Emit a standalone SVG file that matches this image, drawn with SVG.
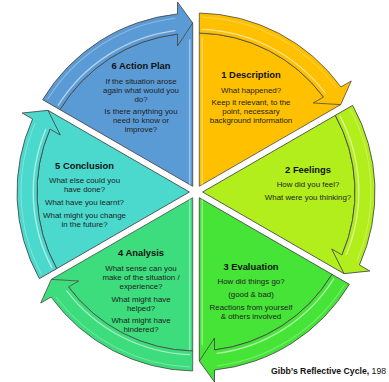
<svg xmlns="http://www.w3.org/2000/svg" xmlns:xlink="http://www.w3.org/1999/xlink" width="389" height="382" viewBox="0 0 389 382">
  <style>
    .wedge { stroke: #4a4a4a; stroke-width: 0.8; stroke-linejoin: round; }
    .band { stroke: #4a4a4a; stroke-width: 0.8; stroke-linejoin: miter; }
    .gloss { fill: none; stroke: #ffffff; stroke-linecap: round; }
    .edge-hl { fill: none; stroke-width: 1.6; stroke-linecap: round; opacity: 0.7; }
    .title { font-family: "Liberation Sans", Arial, sans-serif; font-weight: bold; font-size: 9.4px; fill: #111111; text-anchor: middle; }
    .body { font-family: "Liberation Sans", Arial, sans-serif; font-size: 7.9px; fill: #1e1e1e; text-anchor: middle; }
    .caption { font-family: "Liberation Sans", Arial, sans-serif; font-size: 8.7px; fill: #111111; }
  </style>
  <defs>
    <!-- One 60° slice (bearing 0..60 around 196,192); the others are rotated copies -->
    <path id="wedge" class="wedge" d="M199.3,186.28 L199.3,33.03 A159,159 0 0 1 323.51,97.02 L340.71,104.64 Z"/>
    <path id="band" class="band" d="M199.3,33.03 L199.3,13.03 A179,179 0 0 1 340.94,86.96 L351.29,80.98 L340.71,104.64 L313.19,102.98 L323.51,97.02 A159,159 0 0 0 199.3,33.03 Z"/>
    <g id="gloss" class="gloss">
      <path d="M202.3,29.3 A162.8,162.8 0 0 1 325.3,93.1" stroke-width="1.3" opacity="0.55"/>
      <path d="M202.3,17.1 A175,175 0 0 1 335.9,86.9" stroke-width="1" opacity="0.3"/>
    </g>
  </defs>

  <!-- Sector 1 -->
  <g id="node-description">
    <use xlink:href="#wedge" fill="#FFC000"/>
    <line class="edge-hl" x1="202.3" y1="38" x2="202.3" y2="184" stroke="#FFE27A"/>
    <text class="title" x="251" y="77.5">1 Description</text>
    <text class="body" x="251" y="93">What happened?</text>
    <text class="body" x="251" y="104.7">Keep it relevant, to the</text>
    <text class="body" x="251" y="113.7">point, necessary</text>
    <text class="body" x="251" y="122.7">background information</text>
  </g>

  <!-- Sector 2 -->
  <g id="node-feelings">
    <use xlink:href="#wedge" fill="#B2EE1C" transform="rotate(60 196 192)"/>
    <text class="title" x="308" y="173">2 Feelings</text>
    <text class="body" x="308" y="187">How did you feel?</text>
    <text class="body" x="308" y="199.7">What were you thinking?</text>
  </g>

  <!-- Sector 3 -->
  <g id="node-evaluation">
    <use xlink:href="#wedge" fill="#45E437" transform="rotate(120 196 192)"/>
    <line class="edge-hl" x1="202.3" y1="200" x2="202.3" y2="345" stroke="#A8F5A0"/>
    <text class="title" x="251" y="269.5">3 Evaluation</text>
    <text class="body" x="251" y="283.7">How did things go?</text>
    <text class="body" x="251" y="297">(good &amp; bad)</text>
    <text class="body" x="251" y="309.7">Reactions from yourself</text>
    <text class="body" x="251" y="318.7">&amp; others involved</text>
  </g>

  <!-- Sector 4 -->
  <g id="node-analysis">
    <use xlink:href="#wedge" fill="#3DDC7C" transform="rotate(180 196 192)"/>
    <line class="edge-hl" x1="189.7" y1="200" x2="189.7" y2="350" stroke="#A5F2C6"/>
    <text class="title" x="141" y="256">4 Analysis</text>
    <text class="body" x="141" y="270.7">What sense can you</text>
    <text class="body" x="141" y="279.7">make of the situation /</text>
    <text class="body" x="141" y="288.7">experience?</text>
    <text class="body" x="141" y="301.7">What might have</text>
    <text class="body" x="141" y="310.7">helped?</text>
    <text class="body" x="141" y="323.3">What might have</text>
    <text class="body" x="141" y="332.3">hindered?</text>
  </g>

  <!-- Sector 5 -->
  <g id="node-conclusion">
    <use xlink:href="#wedge" fill="#4BD9CE" transform="rotate(240 196 192)"/>
    <text class="title" x="84.5" y="168.5">5 Conclusion</text>
    <text class="body" x="84.5" y="183">What else could you</text>
    <text class="body" x="84.5" y="192">have done?</text>
    <text class="body" x="84.5" y="205.3">What have you learnt?</text>
    <text class="body" x="84.5" y="218">What might you change</text>
    <text class="body" x="84.5" y="227">in the future?</text>
  </g>

  <!-- Sector 6 -->
  <g id="node-action-plan">
    <use xlink:href="#wedge" fill="#5B9BD5" transform="rotate(300 196 192)"/>
    <line class="edge-hl" x1="189.7" y1="40" x2="189.7" y2="184" stroke="#B4D6F5"/>
    <text class="title" x="141" y="68.5">6 Action Plan</text>
    <text class="body" x="141" y="83.5">If the situation arose</text>
    <text class="body" x="141" y="92.5">again what would you</text>
    <text class="body" x="141" y="101.5">do?</text>
    <text class="body" x="141" y="114.3">Is there anything you</text>
    <text class="body" x="141" y="123.3">need to know or</text>
    <text class="body" x="141" y="132.3">improve?</text>
  </g>

  <!-- Curved arrows leading each stage into the next -->
  <g id="connectors">
    <g transform="rotate(0 196 192)"><use xlink:href="#band" fill="#FFC000"/><use xlink:href="#gloss"/></g>
    <g transform="rotate(60 196 192)"><use xlink:href="#band" fill="#B2EE1C"/><use xlink:href="#gloss"/></g>
    <g transform="rotate(120 196 192)"><use xlink:href="#band" fill="#45E437"/><use xlink:href="#gloss"/></g>
    <g transform="rotate(180 196 192)"><use xlink:href="#band" fill="#3DDC7C"/><use xlink:href="#gloss"/></g>
    <g transform="rotate(240 196 192)"><use xlink:href="#band" fill="#4BD9CE"/><use xlink:href="#gloss"/></g>
    <g transform="rotate(300 196 192)"><use xlink:href="#band" fill="#5B9BD5"/><use xlink:href="#gloss"/></g>
  </g>

  <text class="caption" x="271" y="373.5"><tspan font-weight="bold">Gibb’s Reflective Cycle,</tspan> 198</text>
</svg>
